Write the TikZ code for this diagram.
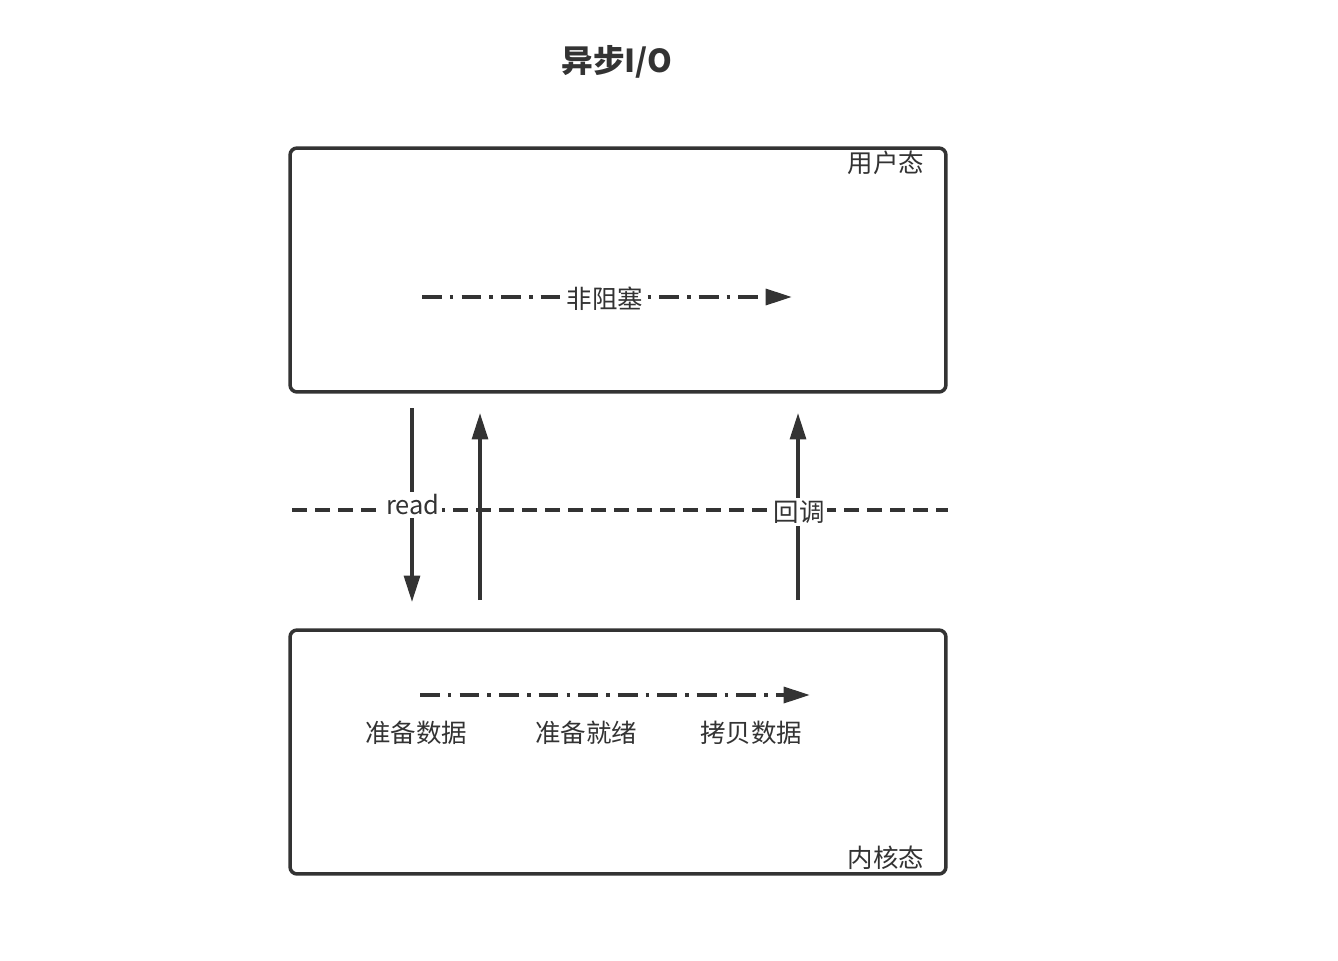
\documentclass[tikz,border=0pt]{standalone}
\usepackage{fontspec}
\setmainfont{Noto Sans CJK SC}
\usetikzlibrary{arrows.meta}
\definecolor{ink}{HTML}{333333}

\begin{document}
\begin{tikzpicture}[x=0.02cm,y=-0.02cm,
    every node/.style={text=ink,font=\fontsize{14.5}{17}\selectfont},
    box/.style={draw=ink,line width=2pt,rounded corners=4pt,inner sep=0pt},
    tag/.style={fill=white,inner sep=1.5pt},
    tip/.style={-{Triangle[length=15pt,width=9pt]}},
    flow/.style={draw=ink,line width=2.2pt,tip,
        dash pattern=on 11.3pt off 4.6pt on 2pt off 4.6pt},
    arr/.style={draw=ink,line width=2pt,tip},
    border/.style={draw=ink,line width=2pt,dash pattern=on 8.5pt off 4.6pt}]
    \useasboundingbox (0,0) rectangle (1338,960);
    % title
    \node (title) at (617,62) {\bfseries\fontsize{18}{21}\selectfont 异步I/O};
    % user space and kernel space
    \node [box,minimum width=13.12cm,minimum height=4.88cm] (user) at (618,270) {};
    \node [box,minimum width=13.12cm,minimum height=4.88cm] (kernel) at (618,752) {};
    \node (userlbl) at (886,163) {用户态};
    \node (kernellbl) at (886,858) {内核态};
    % boundary
    \coordinate (bdA) at (292,510);
    \coordinate (bdB) at (948,510);
    \draw [border] (bdA) -- (bdB);
    % non-blocking in user space
    \coordinate (nbA) at (422,297);
    \coordinate (nbB) at (792,297);
    \draw [flow] (nbA) -- (nbB);
    \node [tag] (nb) at (605,299) {非阻塞};
    % kernel work
    \coordinate (kwA) at (420,695);
    \coordinate (kwB) at (810,695);
    \draw [flow] (kwA) -- (kwB);
    \node (prep) at (416,733) {准备数据};
    \node (ready) at (586,733) {准备就绪};
    \node (copy) at (751,733) {拷贝数据};
    % read
    \coordinate (rdA) at (412,408);
    \coordinate (rdB) at (412,602);
    \draw [arr] (rdA) -- (rdB);
    \node [tag] (read) at (413,505) {read};
    % return
    \coordinate (rtA) at (480,600);
    \coordinate (rtB) at (480,413);
    \draw [arr] (rtA) -- (rtB);
    % callback
    \coordinate (cbA) at (798,600);
    \coordinate (cbB) at (798,413);
    \draw [arr] (cbA) -- (cbB);
    \node [tag] (cb) at (799,512) {回调};
\end{tikzpicture}
\end{document}
